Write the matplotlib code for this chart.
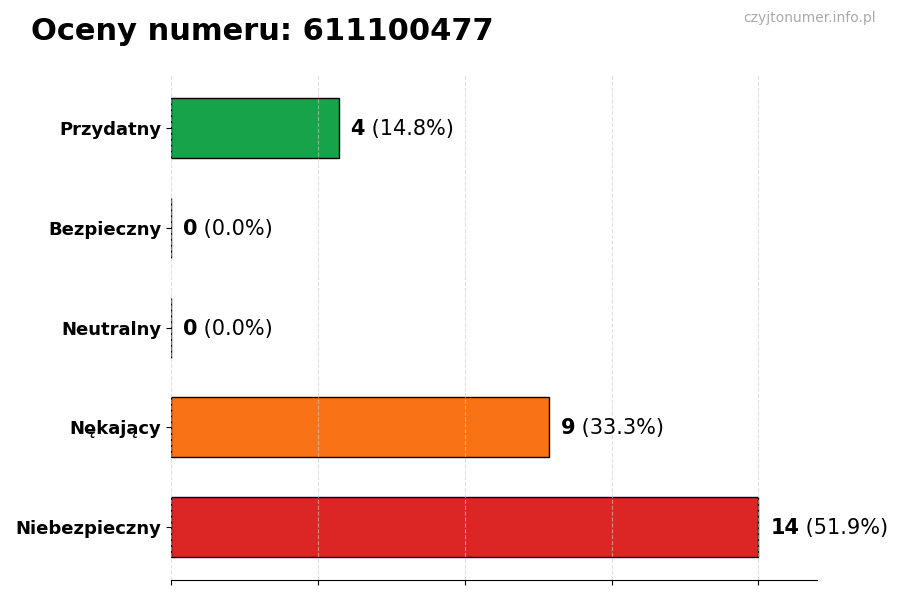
import matplotlib
matplotlib.use("Agg")
import matplotlib.pyplot as plt

categories = ["Przydatny", "Bezpieczny", "Neutralny", "Nękający", "Niebezpieczny"]
values = [4, 0, 0, 9, 14]
colors = ["#16a34a", "#9ca3af", "#3b82f6", "#f97316", "#dc2626"]
title = "Oceny numeru: 611100477"
watermark = "czyjtonumer.info.pl"

total = sum(values)
fig = plt.figure(figsize=(9, 6), dpi=100)
ax = fig.add_axes([0.19, 0.033, 0.718, 0.842])

y = list(range(len(categories)))
ax.barh(y, values, height=0.6, color=colors, edgecolor="black", linewidth=1)
ax.set_yticks(y)
ax.set_yticklabels(categories, fontsize=13, fontweight="bold")
ax.invert_yaxis()

vmax = max(values)
ax.set_xlim(0, vmax * 1.1)
ax.set_xticks([vmax * f for f in (0, 0.25, 0.5, 0.75, 1.0)])
ax.set_xticklabels([])
ax.grid(axis="x", linestyle="--", color="#cccccc", alpha=0.6, linewidth=0.8)

for s in ("top", "right", "left"):
    ax.spines[s].set_visible(False)

off = vmax * 0.02
for yi, v in zip(y, values):
    pct = 100.0 * v / total if total else 0
    t1 = ax.text(v + off, yi + 0.01, f"{v}", fontsize=15, fontweight="bold",
                 va="center", ha="left")
    ax.annotate(f" ({pct:.1f}%)", xy=(1, 0), xycoords=t1, va="bottom",
                ha="left", fontsize=15)

fig.text(0.034, 0.947, title, fontsize=22, fontweight="bold", va="center", ha="left")
fig.text(0.973, 0.97, watermark, fontsize=10, color="#aaaaaa", va="center", ha="right")

fig.savefig("out.png", dpi=100)
